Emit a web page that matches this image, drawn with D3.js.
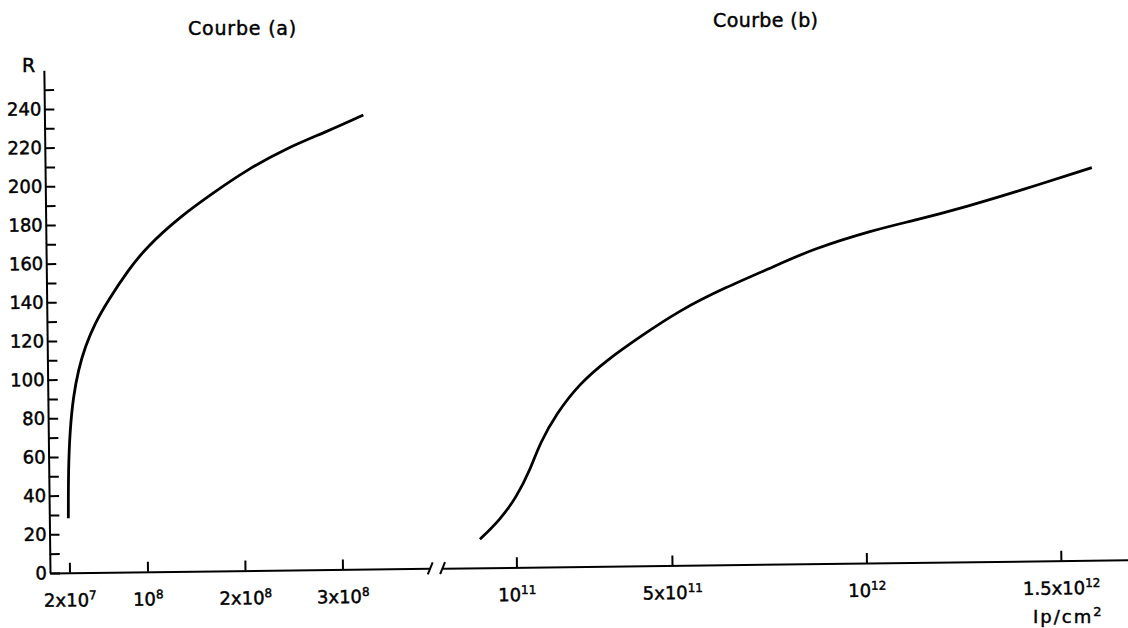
<!DOCTYPE html>
<html>
<head>
<meta charset="utf-8">
<script src="https://cdn.jsdelivr.net/npm/d3@7"></script>
<style>
  body { margin: 0; background: #fff; }
  text { font-family: "DejaVu Sans", sans-serif; fill: #000; stroke: #000; stroke-width: 0.45px; }
</style>
</head>
<body>
<div id="chart"></div>
<script>
// courbe (a): Ip/cm2 (left part of the axis) and R
const curveAX = [1.95e7, 2.01e7, 2.23e7, 2.61e7, 3.16e7, 3.88e7, 4.92e7, 6.32e7, 8.41e7, 1.033e8, 1.377e8, 1.719e8, 2.068e8, 2.481e8, 2.893e8, 3.271e8];
const curveAR = [28.2, 53.2, 73.9, 91.0, 104.8, 116.8, 128.9, 140.8, 156.2, 168.1, 183.4, 195.5, 207.2, 218.3, 226.5, 234.9];

// courbe (b): Ip/cm2 (right part, after the break) and R
const curveBX = [0.007e12, 0.059e12, 0.103e12, 0.138e12, 0.164e12, 0.208e12, 0.269e12, 0.339e12, 0.425e12, 0.529e12, 0.641e12, 0.787e12, 0.865e12, 1.028e12, 1.140e12, 1.269e12, 1.398e12, 1.592e12];
const curveBR = [14.7, 24.6, 36.5, 50.2, 64.0, 79.4, 94.8, 106.6, 118.5, 132.0, 143.0, 155.2, 162.2, 172.2, 177.1, 183.7, 191.1, 203.1];

// tick values and labels
const yTicks = d3.range(0, 251, 10);
const xTicksA = [2e7, 1e8, 2e8, 3e8];
const xLabelsA = [["2x10", "7"], ["10", "8"], ["2x10", "8"], ["3x10", "8"]];
const xTicksB = [1e11, 5e11, 1e12, 1.5e12];
const xLabelsB = [["10", "11"], ["5x10", "11"], ["10", "12"], ["1.5x10", "12"]];

const width = 1128;
const height = 628;

const svg = d3.select("#chart")
    .append("svg")
    .attr("width", width)
    .attr("height", height);

const y = d3.scaleLinear()
    .domain([0, 260])
    .range([573, 70.3]);

// broken x axis: two linear pieces
const xA = d3.scaleLinear()
    .domain([0, 3.9e8])
    .range([50, 430.25]);

const xB = d3.scaleLinear()
    .domain([-0.09e12, 1.675e12])
    .range([442.6, 1129]);

// the scanned figure sits slightly tilted
const g = svg.append("g")
    .attr("transform", "rotate(-0.7, 50, 573)");

function supLabels(labels) {
    return function (sel) {
        sel.selectAll(".tick text").each(function (d, i) {
            const t = d3.select(this).text("");
            t.append("tspan").text(labels[i][0]);
            t.append("tspan").attr("dy", -7).attr("font-size", 12).text(labels[i][1]);
        });
    };
}

function styleAxis(sel) {
    sel.attr("font-size", 18)
        .attr("font-family", null);
    sel.select(".domain").attr("stroke-width", 2);
    sel.selectAll(".tick line").attr("stroke-width", 2);
}

g.append("g")
    .call(d3.axisLeft(y)
        .tickValues(yTicks)
        .tickSizeInner(-10)
        .tickSizeOuter(0)
        .tickPadding(3)
        .tickFormat(d => d % 20 === 0 ? d : ""))
    .attr("transform", `translate(${xA(0)},0)`)
    .call(styleAxis);

g.append("g")
    .attr("transform", `translate(0,${y(0)})`)
    .call(d3.axisBottom(xA)
        .tickValues(xTicksA)
        .tickSizeInner(-10)
        .tickSizeOuter(0)
        .tickPadding(21))
    .call(styleAxis)
    .call(supLabels(xLabelsA));

g.append("g")
    .attr("transform", `translate(0,${y(0)})`)
    .call(d3.axisBottom(xB)
        .tickValues(xTicksB)
        .tickSizeInner(-10)
        .tickSizeOuter(0)
        .tickPadding(21))
    .call(styleAxis)
    .call(supLabels(xLabelsB));

// break marks "/ /"
g.append("g")
    .selectAll("line")
    .data([xA.range()[1], xB.range()[0]])
    .join("line")
    .attr("x1", d => d - 2.5)
    .attr("x2", d => d + 2.5)
    .attr("y1", y(0) + 6)
    .attr("y2", y(0) - 6)
    .attr("stroke", "#000")
    .attr("stroke-width", 2);

const lineA = d3.line()
    .x(i => xA(curveAX[i]))
    .y(i => y(curveAR[i]))
    .curve(d3.curveBasis);

const lineB = d3.line()
    .x(i => xB(curveBX[i]))
    .y(i => y(curveBR[i]))
    .curve(d3.curveBasis);

g.append("path")
    .attr("d", lineA(d3.range(curveAX.length)))
    .attr("fill", "none")
    .attr("stroke", "#000")
    .attr("stroke-width", 2.8);

g.append("path")
    .attr("d", lineB(d3.range(curveBX.length)))
    .attr("fill", "none")
    .attr("stroke", "#000")
    .attr("stroke-width", 2.8);

// titles and axis names
svg.append("text")
    .attr("x", 188)
    .attr("y", 35)
    .attr("font-size", 19)
    .attr("letter-spacing", 0.8)
    .text("Courbe (a)");

svg.append("text")
    .attr("x", 713)
    .attr("y", 27)
    .attr("font-size", 19)
    .attr("letter-spacing", 0.4)
    .text("Courbe (b)");

svg.append("text")
    .attr("x", 22)
    .attr("y", 72)
    .attr("font-size", 19)
    .text("R");

const unit = svg.append("text")
    .attr("x", 1033)
    .attr("y", 623)
    .attr("font-size", 18)
    .attr("letter-spacing", 2);
unit.append("tspan").text("Ip/cm");
unit.append("tspan").attr("dy", -7).attr("font-size", 13).text("2");
</script>
</body>
</html>
